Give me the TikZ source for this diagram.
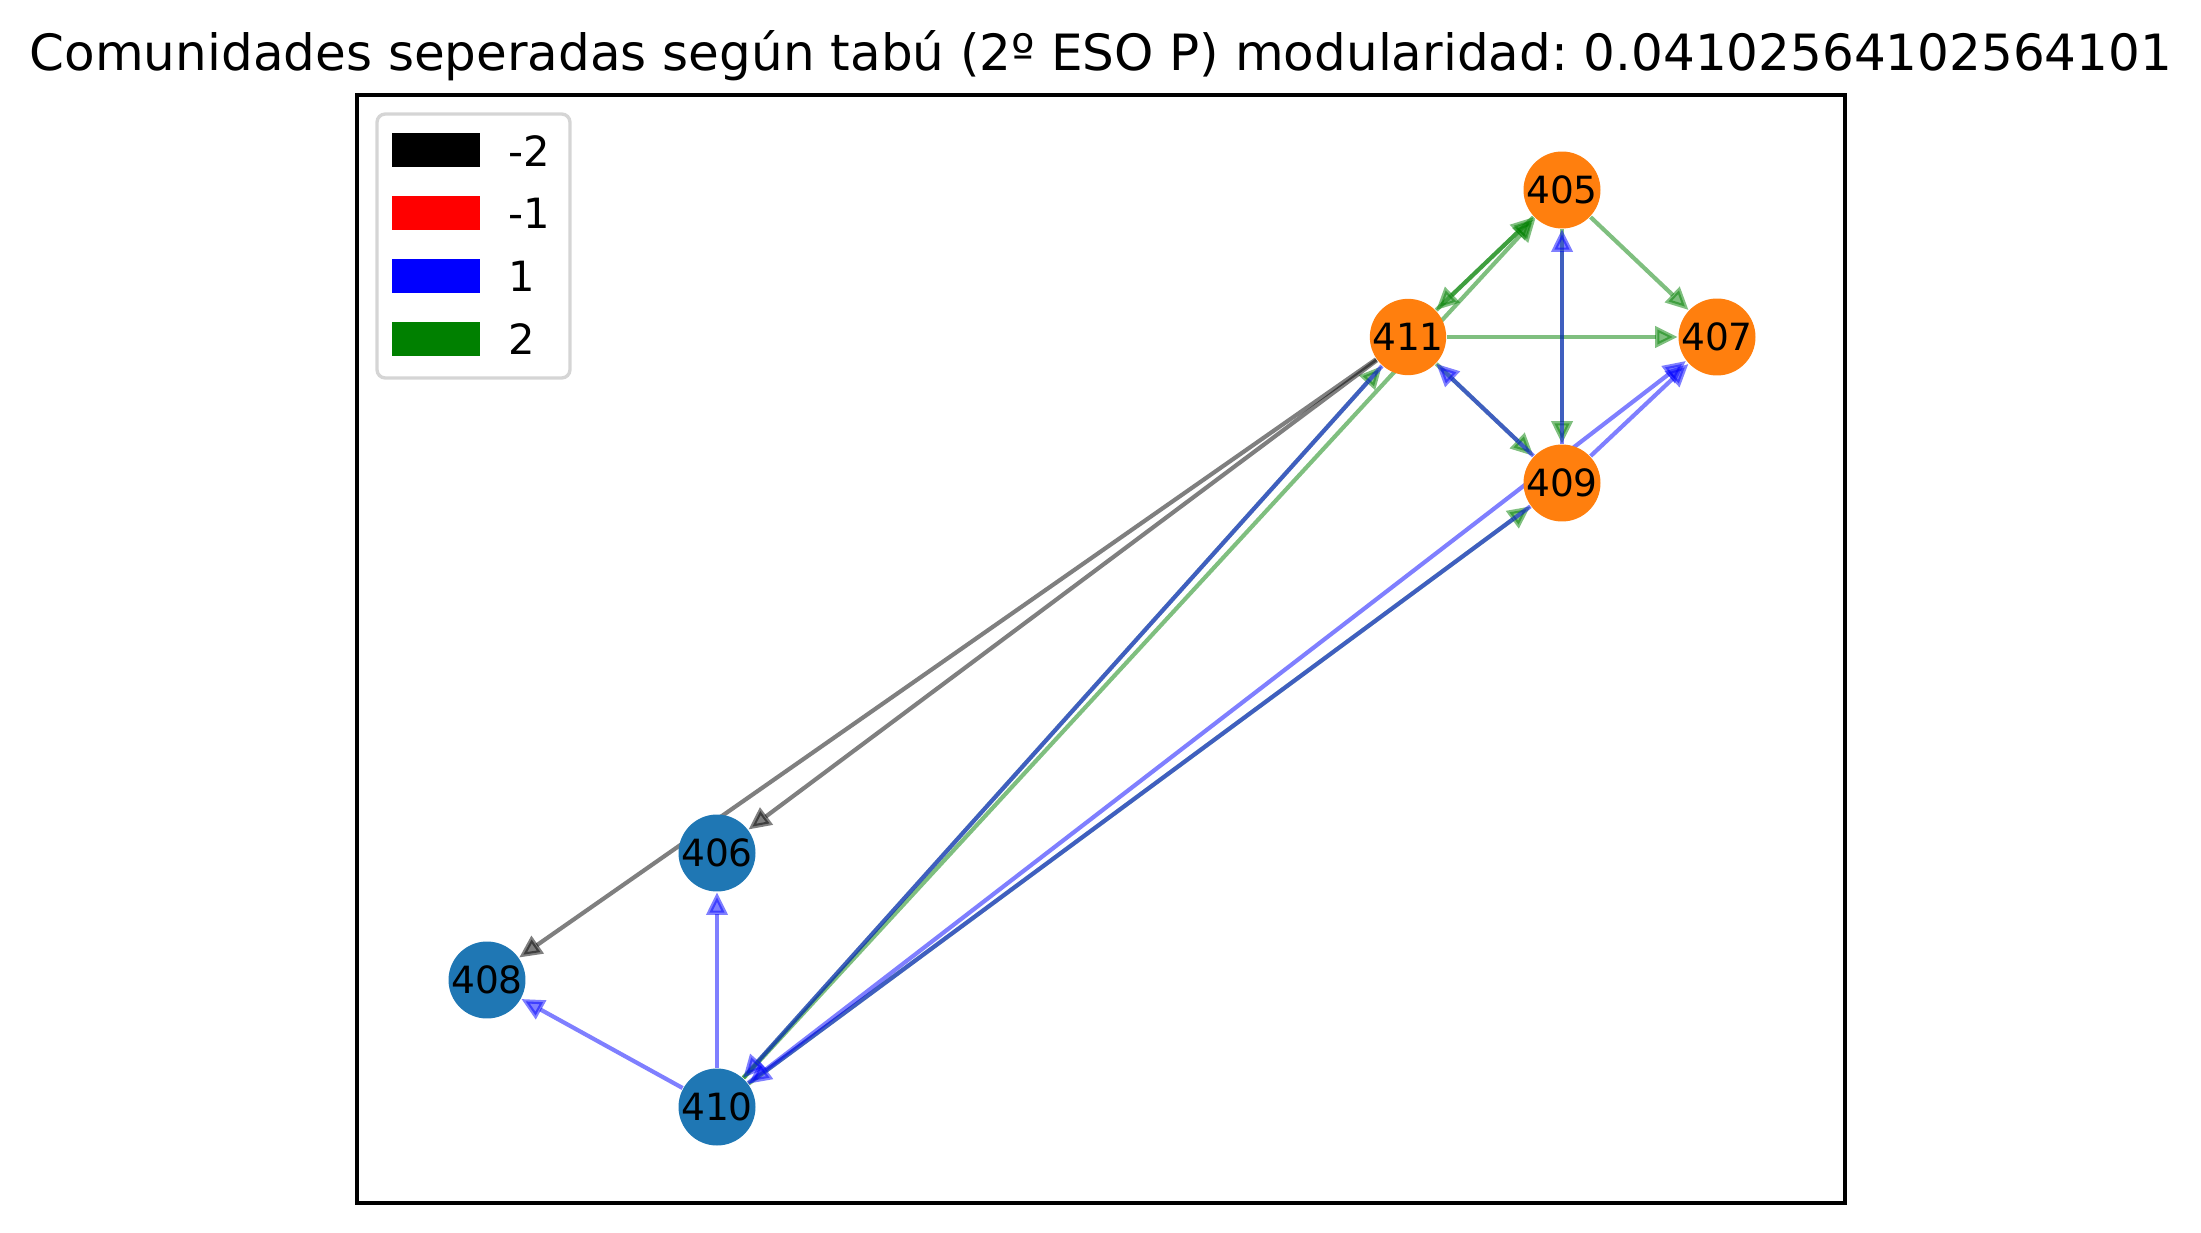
\documentclass[tikz,border=0pt]{standalone}
\usepackage{fontspec}
\setmainfont{DejaVu Sans}
\usetikzlibrary{arrows.meta}
\frenchspacing
\definecolor{mplorange}{HTML}{FF7F0E}
\definecolor{mplblue}{HTML}{1F77B4}
\definecolor{mplgreen}{HTML}{008000}
\definecolor{legframe}{HTML}{D5D5D5}
\pgfdeclarelayer{bg}
\pgfsetlayers{bg,main}
\tikzset{
  vert/.style={circle, inner sep=0pt, minimum size=17.8pt, font=\fontsize{9}{10}\selectfont, text=black},
  vorange/.style={vert, fill=mplorange},
  vblue/.style={vert, fill=mplblue},
  edgeclr/.style={draw=#1, opacity=0.5, line width=1pt, -{Triangle[length=5.4pt,width=5pt,fill=#1]}},
  ek/.style={edgeclr=black},
  eb/.style={edgeclr=blue},
  eg/.style={edgeclr=mplgreen},
  legpatch/.style={inner sep=0pt, minimum width=21.1pt, minimum height=8.1pt},
  leglabel/.style={anchor=base west, inner sep=0pt, font=\fontsize{10}{12}\selectfont},
}
\begin{document}
\begin{tikzpicture}[x=0.24pt, y=-0.24pt]
\useasboundingbox (0,0) rectangle (2201,1233);
% title
\node[anchor=base, inner sep=0pt, font=\fontsize{12}{14}\selectfont] (title) at (1101,71) {Comunidades seperadas según tabú (2º ESO P) modularidad: 0.04102564102564101};
% axes frame
\draw[line width=0.8pt] (357,95) rectangle (1845,1203);
% nodes
\node[vorange] (n405) at (1562,190) {405};
\node[vorange] (n411) at (1408,337) {411};
\node[vorange] (n407) at (1717,337) {407};
\node[vorange] (n409) at (1562,483) {409};
\node[vblue] (n406) at (717,853) {406};
\node[vblue] (n408) at (487,980) {408};
\node[vblue] (n410) at (717,1107) {410};
% edges
\begin{pgfonlayer}{bg}
% weight 2
\draw[eg] (n410) -- (n411);
\draw[eg] (n410) -- (n405);
\draw[eg] (n410) -- (n409);
\draw[eg] (n411) -- (n405);
\draw[eg] (n405) -- (n411);
\draw[eg] (n405) -- (n407);
\draw[eg] (n411) -- (n407);
\draw[eg] (n405) -- (n409);
\draw[eg] (n411) -- (n409);
% weight 1
\draw[eb] (n410) -- (n406);
\draw[eb] (n410) -- (n408);
\draw[eb] (n411) -- (n410);
\draw[eb] (n409) -- (n410);
\draw[eb] (n410) -- (n407);
\draw[eb] (n409) -- (n407);
\draw[eb] (n409) -- (n405);
\draw[eb] (n409) -- (n411);
% weight -2
\draw[ek] (n411) -- (n406);
\draw[ek] (n411) -- (n408);
\end{pgfonlayer}
% legend
\draw[legframe, line width=0.8pt, rounded corners=2pt, fill=white] (377,114) rectangle (570,378);
\node[legpatch, fill=black] (p1) at (436,150) {};
\node[legpatch, fill=red] (p2) at (436,213) {};
\node[legpatch, fill=blue] (p3) at (436,276) {};
\node[legpatch, fill=mplgreen] (p4) at (436,339) {};
\node[leglabel] (l1) at (508,167) {-2};
\node[leglabel] (l2) at (508,229) {-1};
\node[leglabel] (l3) at (508,291) {1};
\node[leglabel] (l4) at (508,354) {2};
\end{tikzpicture}
\end{document}
